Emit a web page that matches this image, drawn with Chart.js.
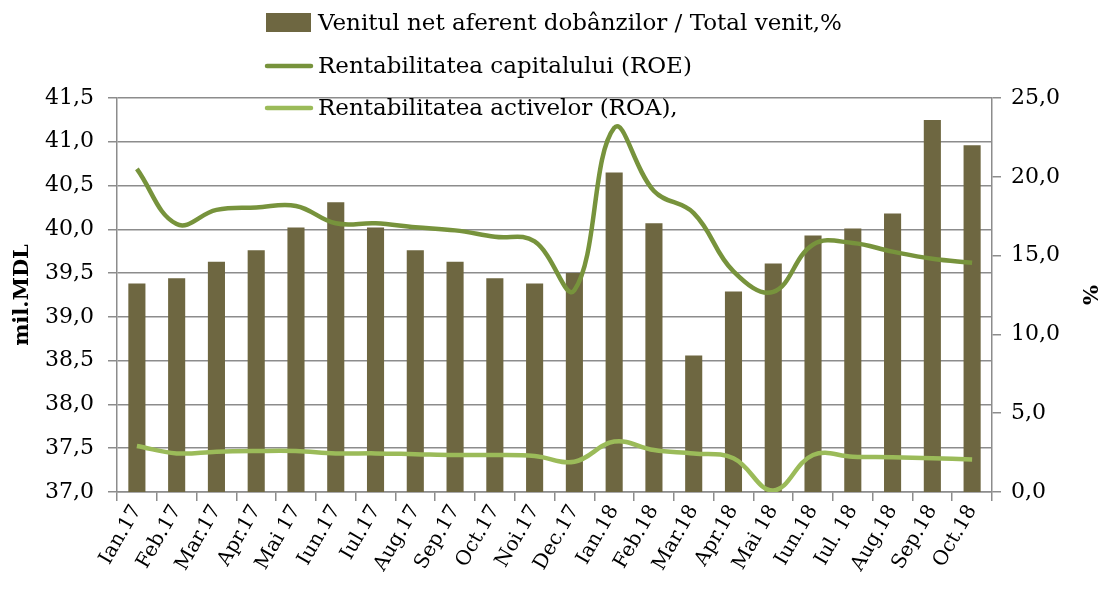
<!DOCTYPE html>
<html>
<head>
<meta charset="utf-8">
<script src="https://cdn.jsdelivr.net/npm/chart.js@4"></script>
<style>
  body { margin: 0; background: #fff; }
</style>
</head>
<body>
<canvas id="chart" width="1101" height="592"></canvas>
<script>
const labels = ["Ian.17", "Feb.17", "Mar.17", "Apr.17", "Mai 17", "Iun.17", "Iul.17", "Aug.17",
  "Sep.17", "Oct.17", "Noi.17", "Dec.17", "Ian.18", "Feb.18", "Mar.18", "Apr.18",
  "Mai 18", "Iun.18", "Iul. 18", "Aug.18", "Sep.18", "Oct.18"];

const venitNet = [39.38, 39.44, 39.63, 39.76, 40.02, 40.31, 40.02, 39.76, 39.63, 39.44, 39.38,
  39.50, 40.65, 40.07, 38.56, 39.29, 39.61, 39.93, 40.01, 40.18, 41.25, 40.96];
const roe = [20.5, 17.0, 17.9, 18.05, 18.15, 17.05, 17.05, 16.8, 16.6, 16.2, 15.9,
  12.8, 23.1, 19.1, 17.7, 14.0, 12.7, 15.7, 15.8, 15.25, 14.8, 14.55];
const roa = [2.92, 2.45, 2.56, 2.6, 2.6, 2.45, 2.45, 2.4, 2.35, 2.35, 2.28,
  1.92, 3.2, 2.66, 2.45, 2.14, 0.1, 2.35, 2.24, 2.2, 2.14, 2.07];

const seriesNames = ["Venitul net aferent dobânzilor / Total venit,%",
  "Rentabilitatea capitalului (ROE)", "Rentabilitatea activelor (ROA),"];

const FONT = "'DejaVu Serif', serif";
const gridGray = "#8c8c8c";
const comma = v => v.toFixed(1).replace(".", ",");

// legend sits over the top of the plot, like in the original
const legendOverlay = {
  id: "legendOverlay",
  afterDraw(chart) {
    const ctx = chart.ctx;
    const ds = chart.data.datasets;
    const x0 = 265, rows = [23, 66, 108];
    ctx.save();
    ctx.font = "23px " + FONT;
    ctx.textBaseline = "middle";
    ds.forEach((d, i) => {
      const y = rows[i];
      if (d.type === "bar") {
        ctx.fillStyle = d.backgroundColor;
        ctx.fillRect(x0 + 1, y - 10, 45, 19);
      } else {
        ctx.strokeStyle = d.borderColor;
        ctx.lineWidth = 4.5;
        ctx.lineCap = "round";
        ctx.beginPath();
        ctx.moveTo(x0 + 2, y);
        ctx.lineTo(x0 + 46, y);
        ctx.stroke();
      }
      ctx.fillStyle = "#000";
      ctx.fillText(d.label, x0 + 53, y + 1);
    });
    ctx.restore();
  }
};

new Chart(document.getElementById("chart"), {
  data: {
    labels: labels,
    datasets: [{
      type: "bar",
      label: seriesNames[0],
      data: venitNet,
      backgroundColor: "#6e6741",
      yAxisID: "y",
      barPercentage: 0.43,
      categoryPercentage: 1,
      order: 3
    }, {
      type: "line",
      label: seriesNames[1],
      data: roe,
      borderColor: "#77933c",
      borderWidth: 4.5,
      pointRadius: 0,
      tension: 0.4,
      yAxisID: "y1",
      order: 1
    }, {
      type: "line",
      label: seriesNames[2],
      data: roa,
      borderColor: "#9bbb59",
      borderWidth: 4.5,
      pointRadius: 0,
      tension: 0.4,
      yAxisID: "y1",
      order: 2
    }]
  },
  options: {
    responsive: false,
    animation: false,
    layout: {
      padding: { top: 98, left: 0, right: 0, bottom: 0 }
    },
    plugins: {
      legend: { display: false },
      tooltip: { enabled: false }
    },
    scales: {
      x: {
        afterFit: s => { s.height = 100; },
        grid: {
          offset: true,
          drawOnChartArea: false,
          color: gridGray,
          lineWidth: 1.5,
          tickLength: 9
        },
        border: { color: gridGray, width: 1.5 },
        ticks: {
          color: "#000",
          font: { family: FONT, size: 20 },
          minRotation: 60,
          maxRotation: 60,
          padding: 0,
          autoSkip: false
        }
      },
      y: {
        position: "left",
        min: 37,
        max: 41.5,
        afterFit: s => { s.width = 117; },
        grid: {
          color: gridGray,
          lineWidth: 1.5,
          tickLength: 9
        },
        border: { color: gridGray, width: 1.5 },
        ticks: {
          stepSize: 0.5,
          color: "#000",
          font: { family: FONT, size: 22 },
          padding: 14,
          callback: v => comma(v)
        },
        title: {
          display: true,
          text: "mil.MDL",
          color: "#000",
          font: { family: FONT, size: 21, weight: "bold" },
          padding: { top: 10, bottom: 2 }
        }
      },
      y1: {
        position: "right",
        min: 0,
        max: 25,
        afterFit: s => { s.width = 109; },
        grid: {
          drawOnChartArea: false,
          color: gridGray,
          lineWidth: 1.5,
          tickLength: 9
        },
        border: { color: gridGray, width: 1.5 },
        ticks: {
          stepSize: 5,
          color: "#000",
          font: { family: FONT, size: 22 },
          padding: 10,
          callback: v => comma(v)
        },
        title: {
          display: true,
          text: "%",
          color: "#000",
          font: { family: FONT, size: 21, weight: "bold" },
          padding: { top: 0, bottom: 8 }
        }
      }
    }
  },
  plugins: [legendOverlay]
});
</script>
</body>
</html>
